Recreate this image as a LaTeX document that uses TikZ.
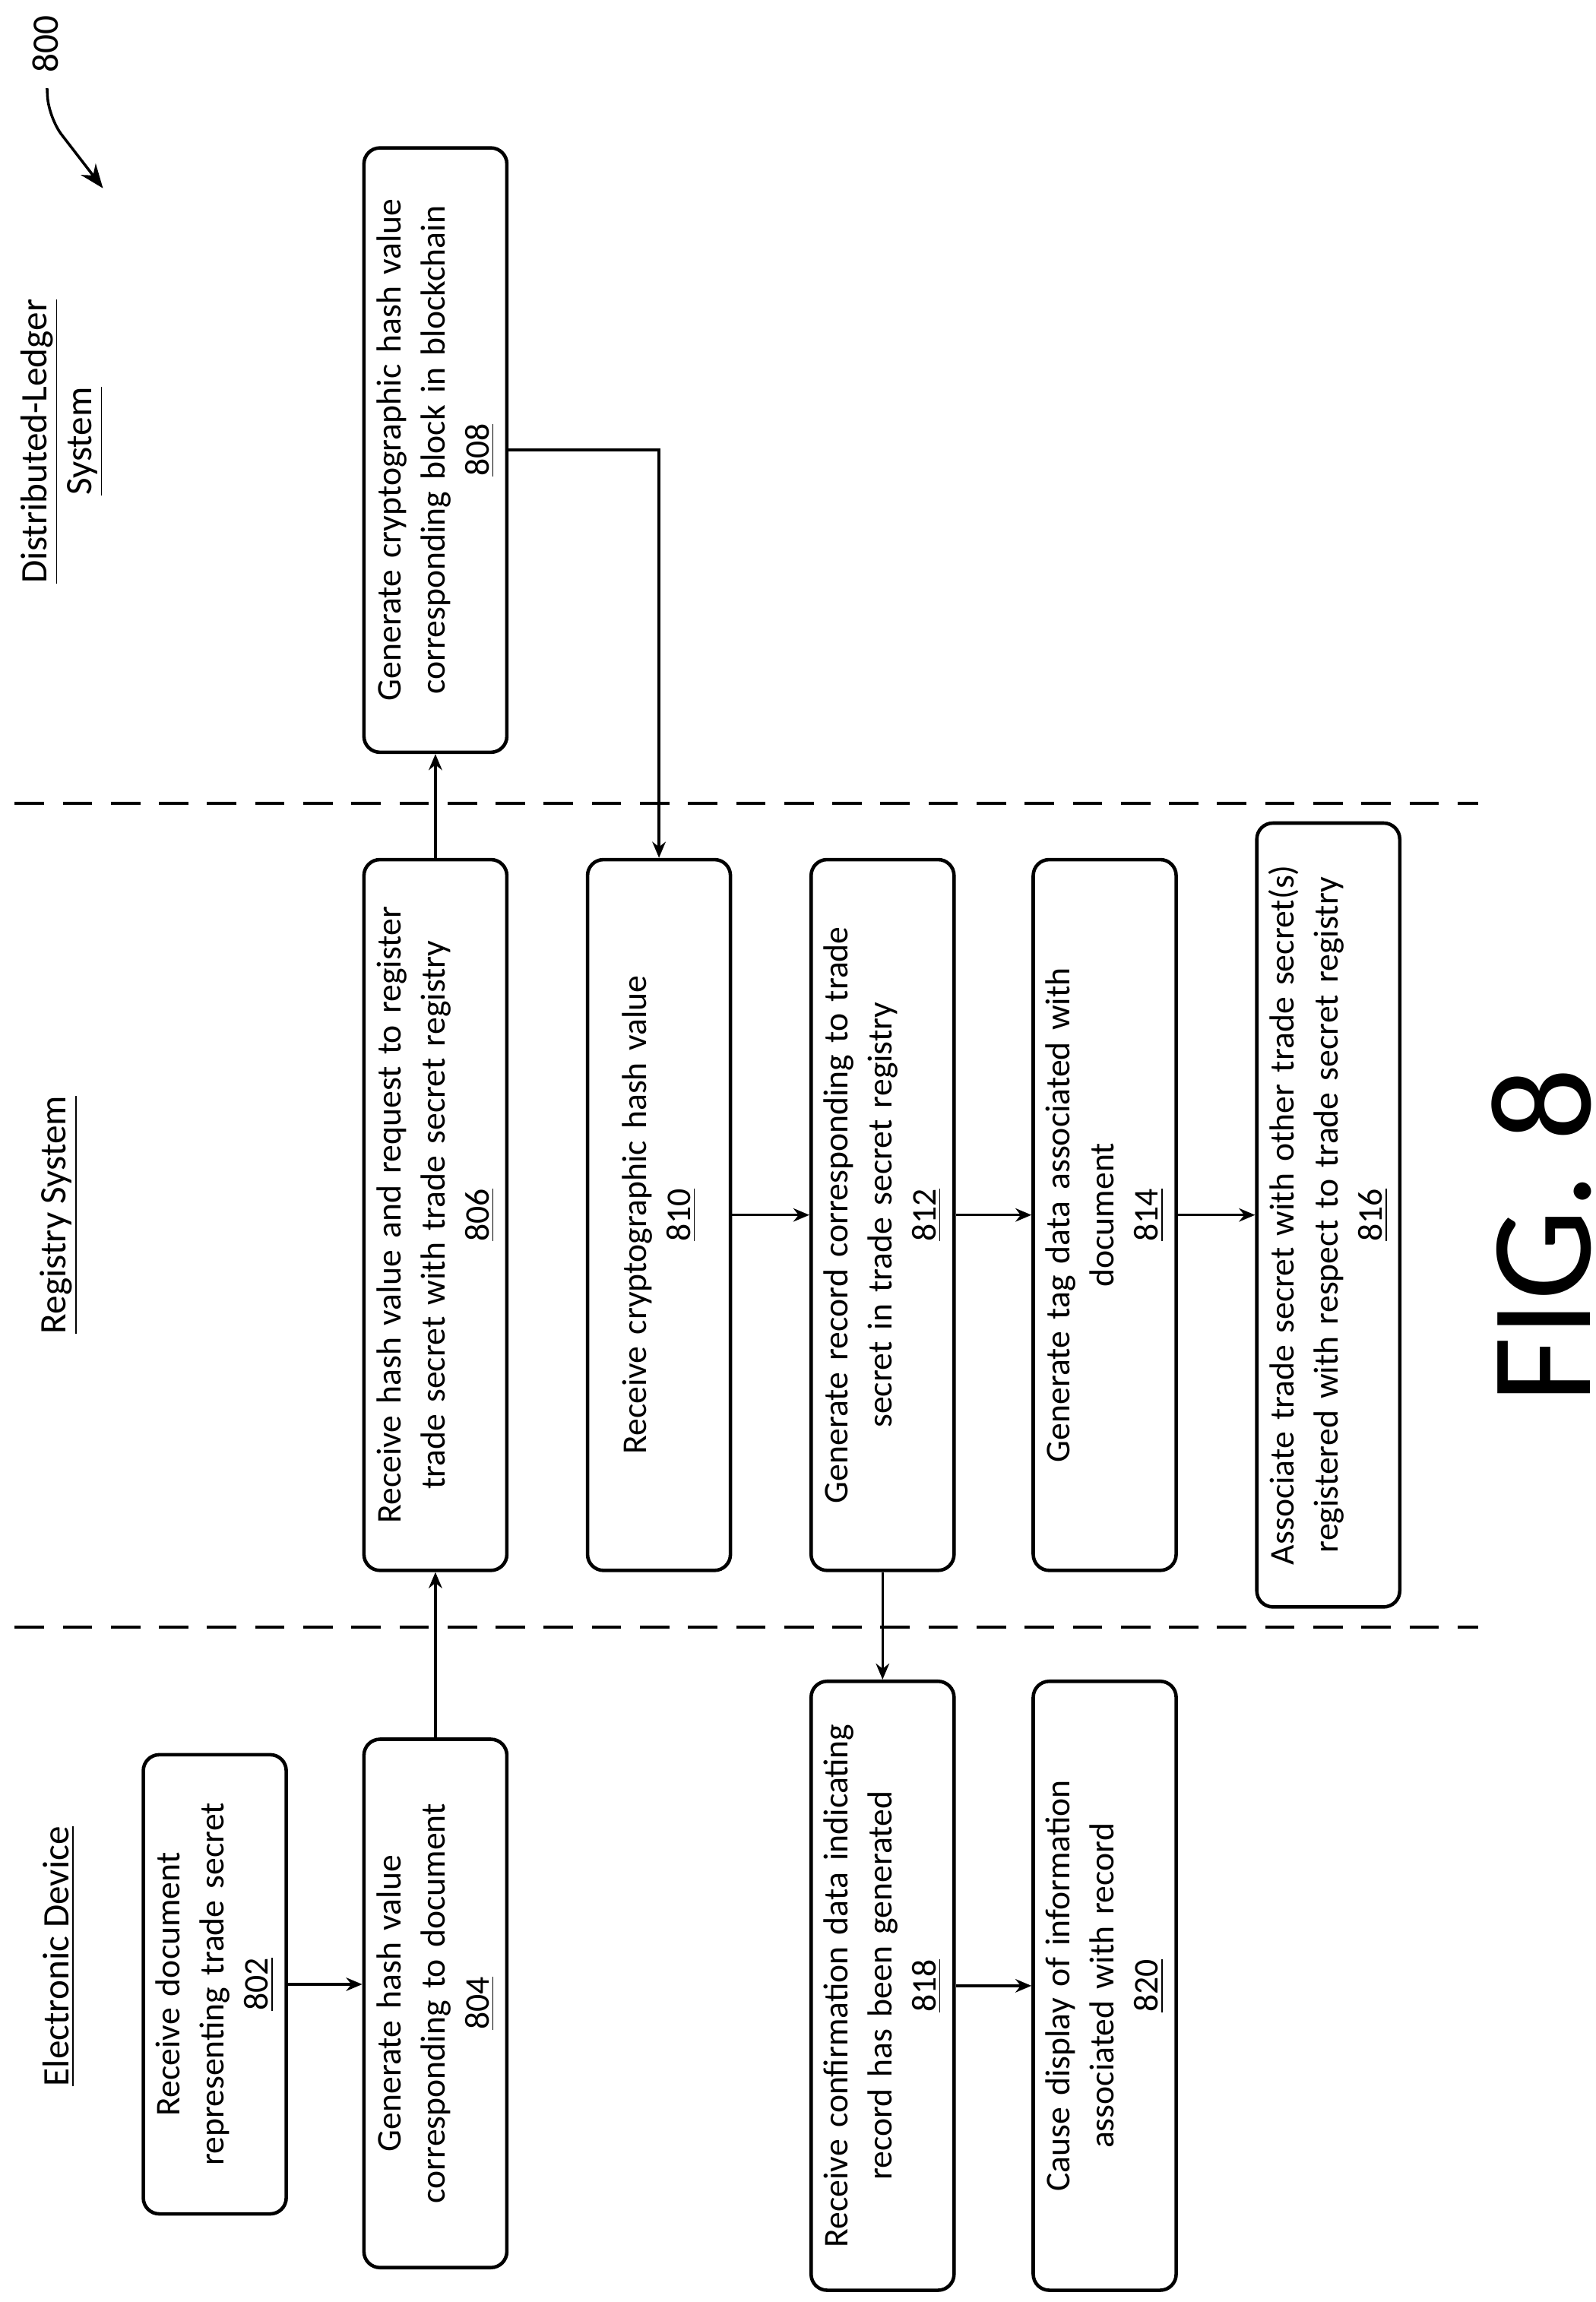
\documentclass[tikz,border=0pt]{standalone}
\usepackage{fontspec}
\setmainfont{Carlito}
\usetikzlibrary{arrows.meta}

\tikzset{
  stepbox/.style={draw, line width=1.3pt, rounded corners=6pt, rotate=90, align=center,
    minimum height=1.88cm, font=\fontsize{13}{16.5}\selectfont},
  lane/.style={rotate=90, align=center, font=\fontsize{14}{17}\selectfont},
  flow/.style={-{Stealth[length=6pt,width=5pt]}, line width=1pt},
  divider/.style={line width=1.2pt, dash pattern=on 11pt off 7pt}
}

\begin{document}
\begin{tikzpicture}[x=0.01935cm, y=-0.01935cm]
  \useasboundingbox (0,0) rectangle (1085,1565);

  % lanes
  \node [lane] (dev) at (40,1330) {\underline{Electronic Device}};
  \node [lane] (reg) at (40,826) {\underline{Registry System}};
  \node [lane] (dls) at (42,300) {\underline{Distributed-Ledger}\\\underline{System}};
  \draw [divider] (10,546) -- (1005,546);
  \draw [divider] (10,1106) -- (1005,1106);

  % steps
  \node [stepbox, minimum width=6.04cm, text width=5.6cm] (802) at (146,1349) {Receive document\\representing trade secret\\\underline{802}};
  \node [stepbox, minimum width=6.95cm, text width=6.5cm] (804) at (296,1362) {Generate hash value\\corresponding to document\\\underline{804}};
  \node [stepbox, minimum width=9.35cm, text width=8.9cm] (806) at (296,826) {Receive hash value and request to register\\trade secret with trade secret registry\\\underline{806}};
  \node [stepbox, minimum width=7.95cm, text width=7.5cm] (808) at (296,306) {Generate cryptographic hash value\\corresponding block in blockchain\\\underline{808}};
  \node [stepbox, minimum width=9.35cm, text width=8.9cm] (810) at (448,826) {Receive cryptographic hash value\\\underline{810}};
  \node [stepbox, minimum width=9.35cm, text width=8.9cm] (812) at (600,826) {Generate record corresponding to trade\\secret in trade secret registry\\\underline{812}};
  \node [stepbox, minimum width=9.35cm, text width=8.9cm] (814) at (751,826) {Generate tag data associated with\\document\\\underline{814}};
  \node [stepbox, minimum width=10.31cm, text width=9.9cm] (816) at (903,826) {Associate trade secret with other trade secret(s)\\registered with respect to trade secret registry\\\underline{816}};
  \node [stepbox, minimum width=8.01cm, text width=7.6cm] (818) at (600,1350) {Receive confirmation data indicating\\record has been generated\\\underline{818}};
  \node [stepbox, minimum width=8.01cm, text width=7.6cm] (820) at (751,1350) {Cause display of information\\associated with record\\\underline{820}};

  % connectors
  \draw [flow] (802.south) -- (802.south -| 804.north);
  \draw [flow] (804.east) -- (806.west);
  \draw [flow] (806.east) -- (808.west);
  \draw [flow] (808.south) -| (810.east);
  \draw [flow] (810.south) -- (812.north);
  \draw [flow] (812.south) -- (814.north);
  \draw [flow] (814.south) -- (816.north);
  \draw [flow] (812.west) -- (818.east);
  \draw [flow] (818.south) -- (820.north);

  % figure label
  \node [lane] (n800) at (31,30) {800};
  \coordinate (n800tip) at (70,128);
  \draw [-{Stealth[length=9pt,width=7pt]}, line width=1pt, rounded corners=8pt]
    (32,60) -- (33,80) -- (n800tip);
  \node [rotate=90, font=\fontsize{54}{60}\selectfont] (fig) at (1048,840) {FIG. 8};
\end{tikzpicture}
\end{document}
